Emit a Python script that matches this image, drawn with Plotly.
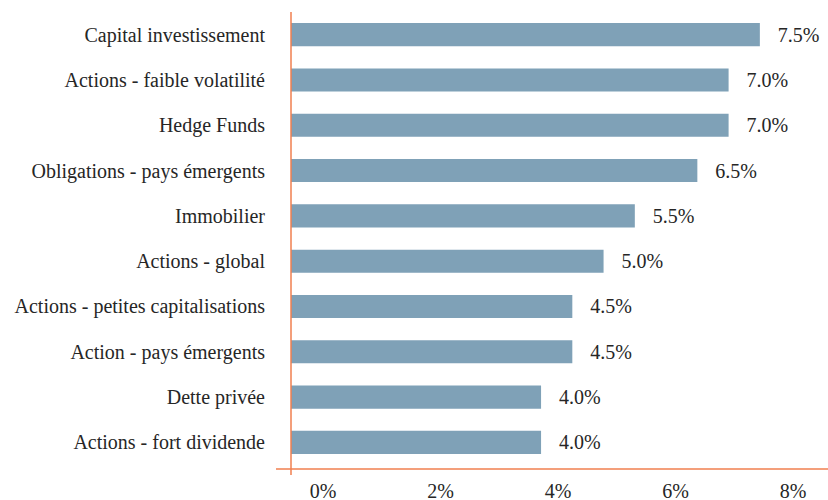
import plotly.graph_objects as go

categories = [
    "Capital investissement",
    "Actions - faible volatilité",
    "Hedge Funds",
    "Obligations - pays émergents",
    "Immobilier",
    "Actions - global",
    "Actions - petites capitalisations",
    "Action - pays émergents",
    "Dette privée",
    "Actions - fort dividende",
]
values = [7.5, 7.0, 7.0, 6.5, 5.5, 5.0, 4.5, 4.5, 4.0, 4.0]
tick_values = [0, 2, 4, 6, 8]
tick_labels = ["0%", "2%", "4%", "6%", "8%"]

FONT = "Liberation Serif"
TEXT_COLOR = "#262626"
BAR_COLOR = "#7fa1b7"
AXIS_COLOR = "#f07f4f"
FS = 20

fig = go.Figure()
fig.add_trace(go.Bar(
    x=values,
    y=categories,
    orientation="h",
    marker=dict(color=BAR_COLOR, line=dict(width=0)),
    text=["\u00a0\u00a0\u00a0" + f"{v:.1f}%" for v in values],
    textposition="outside",
    cliponaxis=False,
    textfont=dict(family=FONT, size=FS, color=TEXT_COLOR),
    hoverinfo="skip",
))
# invisible helper trace so the tick-label axis is drawn
fig.add_trace(go.Scatter(
    x=tick_values,
    y=[categories[-1]] * len(tick_values),
    xaxis="x2",
    yaxis="y",
    mode="markers",
    marker=dict(opacity=0),
    hoverinfo="skip",
))

# vertical axis line at x = 0 (extends slightly below the horizontal axis)
fig.add_shape(
    type="line", xref="x", yref="paper",
    x0=0, x1=0, y0=-0.013, y1=1,
    line=dict(color=AXIS_COLOR, width=1.5),
)
# horizontal axis line along the bottom of the plot area
fig.add_shape(
    type="line", xref="paper", yref="paper",
    x0=0, x1=1, y0=0, y1=0,
    line=dict(color=AXIS_COLOR, width=1.5),
)

fig.update_layout(
    template="none",
    width=828,
    height=500,
    margin=dict(l=276, r=0, t=12, b=31, autoexpand=False),
    plot_bgcolor="white",
    paper_bgcolor="white",
    showlegend=False,
    bargap=0.49,
    font=dict(family=FONT, size=FS, color=TEXT_COLOR),
    xaxis=dict(
        range=[-0.24, 8.59],
        automargin=False,
        showticklabels=False,
        showgrid=False,
        zeroline=False,
        showline=False,
        ticks="",
    ),
    xaxis2=dict(
        overlaying="x",
        anchor="y",
        side="bottom",
        automargin=False,
        range=[-0.8, 8.596],
        tickvals=tick_values,
        ticktext=tick_labels,
        showgrid=False,
        zeroline=False,
        showline=False,
        ticks="outside",
        ticklen=4,
        tickcolor="rgba(0,0,0,0)",
        tickfont=dict(family=FONT, size=FS, color=TEXT_COLOR),
    ),
    yaxis=dict(
        autorange="reversed",
        automargin=False,
        showgrid=False,
        zeroline=False,
        showline=False,
        ticks="outside",
        ticklen=6,
        tickcolor="rgba(0,0,0,0)",
        tickfont=dict(family=FONT, size=FS, color=TEXT_COLOR),
    ),
)

fig.write_html(
    "out.html",
    config={"displayModeBar": False},
    post_script="document.body.style.margin='0';document.body.style.overflow='hidden';",
)
